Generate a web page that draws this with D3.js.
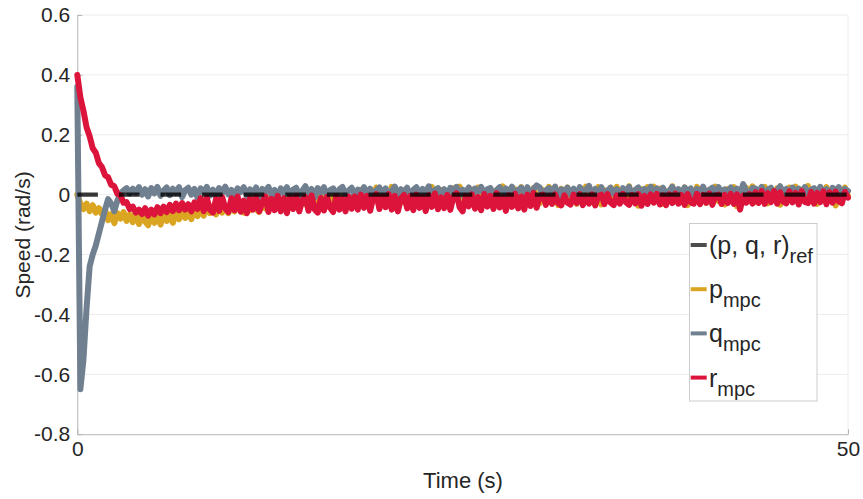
<!DOCTYPE html>
<html>
<head>
<meta charset="utf-8">
<script src="https://cdn.jsdelivr.net/npm/d3@7"></script>
<style>
  html, body { margin: 0; padding: 0; background: #fff; }
  svg { display: block; font-family: "Liberation Sans", Arial, Helvetica, sans-serif; }
</style>
</head>
<body>
<svg id="chart" width="863" height="499"></svg>
<script>
// Angular rate tracking: MPC response vs. zero reference, sampled every 0.2 s
const sampleStep = 0.2; // s
const xTicks = [0, 50];
const yTicks = [0.6, 0.4, 0.2, 0, -0.2, -0.4, -0.6, -0.8];
const yTickLabels = ["0.6", "0.4", "0.2", "0", "-0.2", "-0.4", "-0.6", "-0.8"];

const refTime = [0, 50];
const refValue = [0, 0];

const pMpc = [
  0.0, -0.03, -0.048, -0.03, -0.055, -0.035, -0.06, -0.045, -0.065, -0.05,
  -0.085, -0.065, -0.095, -0.062, -0.08, -0.058, -0.088, -0.066, -0.092, -0.06,
  -0.098, -0.068, -0.09, -0.102, -0.064, -0.094, -0.07, -0.1, -0.062, -0.088,
  -0.066, -0.094, -0.058, -0.082, -0.052, -0.078, -0.056, -0.082, -0.046, -0.072,
  -0.044, -0.07, -0.034, -0.062, -0.038, -0.066, -0.032, -0.06, -0.036, -0.062,
  -0.028, -0.056, -0.024, -0.052, -0.06, -0.026, -0.052, -0.02, -0.048, -0.058,
  -0.016, -0.046, -0.012, -0.042, -0.008, -0.038, -0.048, -0.014, -0.04, -0.004,
  -0.036, -0.01, -0.043, -0.002, -0.032, 0.003, -0.028, -0.038, -0.004, -0.034,
  0.0, -0.03, 0.01, -0.026, -0.038, -0.002, -0.028, 0.012, -0.022, -0.033,
  0.004, -0.028, 0.016, -0.02, -0.034, 0.01, -0.022, 0.024, -0.015, -0.03,
  0.012, -0.022, 0.026, -0.013, -0.036, 0.008, -0.026, 0.018, -0.017, -0.032,
  0.02, -0.012, -0.028, 0.014, -0.019, 0.026, -0.009, -0.033, 0.016, -0.023,
  0.01, -0.03, 0.021, -0.015, 0.027, -0.021, 0.008, -0.036, 0.017, -0.012,
  0.024, -0.026, 0.011, -0.017, 0.02, -0.031, 0.014, -0.01, 0.028, -0.022,
  0.007, -0.027, 0.018, -0.014, 0.025, -0.034, 0.012, -0.019, 0.022, -0.009,
  -0.029, 0.016, -0.012, 0.026, -0.023, 0.009, -0.035, 0.02, -0.016, 0.024,
  -0.019, 0.013, -0.031, 0.021, -0.01, 0.027, -0.025, 0.008, -0.017, 0.025,
  -0.033, 0.015, -0.021, 0.023, -0.008, 0.026, -0.027, 0.011, -0.018, 0.028,
  -0.023, 0.009, -0.037, 0.018, -0.013, 0.025, -0.02, 0.027, -0.01, 0.02,
  -0.031, 0.012, -0.016, 0.028, -0.024, 0.017, -0.011, 0.024, -0.035, 0.014,
  -0.019, 0.026, -0.009, 0.021, -0.028, 0.016, -0.014, 0.027, -0.022, 0.01,
  -0.033, 0.019, -0.012, 0.025, -0.039, 0.015, -0.021, 0.023, -0.008, 0.028,
  -0.025, 0.011, -0.016, 0.026, -0.029, 0.018, -0.011, 0.021, -0.034, 0.014,
  -0.02, 0.024, -0.01, 0.027, -0.026, 0.017, -0.014, 0.029, -0.022, 0.012,
  -0.031, 0.02, -0.009, 0.025, -0.019, 0.022, -0.036, 0.015, -0.012, 0.024,
  -0.004
];

const qMpc = [
  0.36, -0.65, -0.55, -0.38, -0.24, -0.20, -0.17, -0.13, -0.09, -0.05,
  -0.015, -0.03, -0.055, -0.02, 0.005, 0.014, 0.022, 0.004, 0.02, 0.008,
  0.025, 0.0, 0.018, -0.006, 0.022, 0.004, 0.026, -0.004, 0.014, 0.024,
  -0.002, 0.02, 0.006, 0.025, -0.008, 0.015, 0.023, 0.0, 0.019, -0.01,
  0.021, 0.008, 0.026, -0.003, 0.017, -0.009, 0.022, 0.006, 0.027, 0.001,
  0.016, -0.007, 0.021, 0.009, 0.025, -0.004, 0.018, 0.003, 0.024, -0.008,
  0.019, 0.01, 0.026, -0.002, 0.016, -0.011, 0.021, 0.005, 0.025, -0.003,
  0.017, 0.023, -0.006, 0.013, 0.028, 0.002, 0.019, -0.009, 0.022, 0.007,
  0.025, -0.004, 0.015, 0.021, -0.01, 0.018, 0.026, 0.001, 0.014, 0.023,
  -0.005, 0.017, 0.006, 0.025, -0.002, 0.02, -0.009, 0.015, 0.024, 0.003,
  0.021, -0.007, 0.013, 0.027, 0.0, 0.018, 0.008, 0.023, -0.011, 0.016,
  0.025, -0.001, 0.019, 0.007, 0.028, -0.006, 0.015, 0.022, 0.002, 0.018,
  -0.008, 0.023, 0.011, 0.026, -0.003, 0.017, 0.004, 0.024, -0.007, 0.02,
  0.009, 0.026, 0.0, 0.018, 0.022, -0.01, 0.015, 0.025, -0.002, 0.021,
  0.006, 0.027, -0.005, 0.016, 0.023, 0.003, 0.025, -0.008, 0.019, 0.031,
  0.024, -0.003, 0.014, 0.022, 0.005, 0.027, -0.009, 0.018, 0.008, 0.023,
  0.001, 0.02, -0.006, 0.025, 0.011, 0.016, 0.029, -0.002, 0.019, 0.006,
  0.025, -0.008, 0.014, 0.023, 0.003, 0.018, -0.01, 0.022, 0.009, 0.026,
  -0.004, 0.016, 0.024, 0.002, 0.019, 0.01, 0.027, -0.007, 0.021, 0.005,
  0.023, -0.009, 0.013, 0.026, 0.004, 0.018, -0.001, 0.024, 0.011, 0.021,
  -0.006, 0.019, 0.008, 0.027, 0.0, 0.016, 0.023, -0.004, 0.025, 0.007,
  0.018, 0.01, 0.024, -0.005, 0.02, 0.003, 0.035, 0.012, -0.002, 0.022,
  0.021, 0.006, 0.026, -0.008, 0.017, 0.023, 0.001, 0.015, 0.028, 0.005,
  0.019, -0.004, 0.024, 0.01, 0.02, -0.009, 0.025, 0.004, 0.016, 0.022,
  -0.001, 0.026, 0.009, 0.018, -0.006, 0.023, 0.012, 0.025, 0.002, 0.019,
  0.012
];

const rMpc = [
  0.40, 0.325, 0.28, 0.225, 0.195, 0.155, 0.14, 0.105, 0.092, 0.065,
  0.058, 0.033, 0.028, 0.003, -0.002, -0.027, -0.025, -0.048, -0.04, -0.06,
  -0.05, -0.065, -0.045, -0.07, -0.05, -0.066, -0.042, -0.062, -0.04, -0.058,
  -0.034, -0.055, -0.03, -0.052, -0.028, -0.05, -0.032, -0.056, -0.026, -0.048,
  -0.012, -0.055, -0.01, -0.05, -0.06, -0.014, -0.054, -0.008, -0.046, -0.058,
  -0.012, -0.052, -0.006, -0.057, -0.02, -0.062, -0.012, -0.05, -0.008, -0.056,
  -0.026, -0.006, -0.058, -0.014, -0.052, -0.004, -0.056, -0.012, -0.062, -0.01,
  -0.048, -0.005, -0.056, -0.018, -0.008, -0.054, -0.003, -0.049, -0.06, -0.011,
  -0.053, -0.008, -0.044, -0.058, -0.005, -0.05, -0.013, -0.056, -0.006, -0.047,
  -0.006, -0.05, 0.0, -0.044, -0.004, -0.054, -0.01, 0.002, -0.048, -0.006,
  -0.042, 0.002, -0.05, -0.004, -0.056, -0.012, -0.001, -0.046, -0.005, -0.052,
  0.0, -0.044, -0.008, -0.055, -0.002, -0.041, 0.004, -0.049, -0.009, -0.045,
  -0.001, -0.051, -0.007, 0.005, -0.042, -0.056, -0.004, -0.039, 0.001, -0.047,
  -0.008, -0.052, 0.002, -0.04, -0.004, -0.048, 0.005, -0.043, -0.01, -0.054,
  -0.002, -0.041, 0.003, -0.046, -0.006, -0.05, 0.0, -0.038, 0.006, -0.044,
  -0.004, 0.0, -0.034, -0.006, -0.031, 0.001, -0.029, -0.036, -0.002, -0.027,
  -0.033, 0.0, -0.028, 0.002, -0.035, -0.004, -0.03, 0.001, -0.036, -0.005,
  0.0, -0.032, 0.002, -0.027, -0.035, -0.002, -0.03, 0.003, -0.026, -0.034,
  -0.001, -0.029, 0.002, -0.037, -0.004, -0.031, 0.001, -0.027, 0.003, -0.033,
  -0.002, -0.035, 0.001, -0.028, 0.004, -0.03, -0.001, -0.034, 0.002, -0.026,
  -0.03, 0.003, -0.032, -0.001, -0.027, 0.004, -0.034, -0.003, 0.0, -0.031,
  -0.001, -0.028, 0.003, -0.031, 0.001, -0.05, -0.003, -0.027, 0.002, -0.03,
  0.008, -0.028, 0.012, -0.031, 0.005, -0.025, 0.012, -0.03, 0.008, -0.023,
  -0.029, 0.011, -0.026, 0.006, -0.033, 0.012, -0.024, -0.028, 0.009, -0.03,
  0.006, -0.025, 0.011, -0.032, 0.008, -0.027, 0.01, -0.022, -0.029, 0.009,
  -0.01
];

const seriesNames = ["p", "q", "r"];
const seriesColors = ["#DAA520", "#708090", "#DC143C"];
const seriesValues = [pMpc, qMpc, rMpc];

const svg = d3.select("#chart");
const x = d3.scaleLinear().domain([0, 50]).range([77.3, 848]);
const y = d3.scaleLinear().domain([-0.8, 0.6]).range([434.2, 15]);

const textColor = "#262626";
const axisColor = "#b5b5b5";
const gridColor = "#ececec";

// grid
const grid = svg.append("g");
grid.selectAll("line.h").data(yTicks.filter(d => d !== -0.8)).join("line")
  .attr("x1", x(0)).attr("x2", x(50))
  .attr("y1", d => y(d)).attr("y2", d => y(d))
  .attr("stroke", gridColor).attr("stroke-width", 1);
grid.selectAll("line.v").data(xTicks.filter(d => d !== 0)).join("line")
  .attr("x1", d => x(d)).attr("x2", d => x(d))
  .attr("y1", y(0.6)).attr("y2", y(-0.8))
  .attr("stroke", gridColor).attr("stroke-width", 1);

// axes
const yAxis = d3.axisLeft(y).tickValues(yTicks)
  .tickFormat((d, i) => yTickLabels[i])
  .tickSizeInner(-5).tickSizeOuter(0).tickPadding(7);
const gy = svg.append("g").attr("transform", `translate(${x(0)},0)`).call(yAxis);

const xAxis = d3.axisBottom(x).tickValues(xTicks)
  .tickFormat(d3.format("d"))
  .tickSizeInner(-5).tickSizeOuter(0).tickPadding(7);
const gx = svg.append("g").attr("transform", `translate(0,${y(-0.8)})`).call(xAxis);

[gx, gy].forEach(g => {
  g.select(".domain").attr("stroke", axisColor);
  g.selectAll(".tick line").attr("stroke", axisColor);
  g.selectAll(".tick text").attr("fill", textColor)
    .style("font-size", "21px").style("font-family", "'Liberation Sans', Arial, sans-serif");
});

// axis titles
svg.append("text").attr("x", 463).attr("y", 488)
  .attr("text-anchor", "middle").attr("fill", textColor)
  .style("font-size", "22px").text("Time (s)");
svg.append("text").attr("transform", "translate(30,235) rotate(-90)")
  .attr("text-anchor", "middle").attr("fill", textColor)
  .style("font-size", "21px").text("Speed (rad/s)");

// series
const line = d3.line().x(d => x(d[0])).y(d => y(d[1]));
const plot = svg.append("g");
seriesValues.forEach((vals, k) => {
  const pts = vals.map((v, i) => [i * sampleStep, v]);
  plot.append("path").datum(pts)
    .attr("d", line)
    .attr("fill", "none")
    .attr("stroke", seriesColors[k])
    .attr("stroke-width", 6)
    .attr("stroke-linejoin", "round")
    .attr("stroke-linecap", "round");
});

// reference (dashed, on top)
plot.append("path").datum(refTime.map((t, i) => [t, refValue[i]]))
  .attr("d", line)
  .attr("fill", "none")
  .attr("stroke", "#000")
  .attr("stroke-opacity", 0.78)
  .attr("stroke-width", 4.3)
  .attr("stroke-dasharray", "20.6 21");

// legend
const legend = svg.append("g");
legend.append("rect")
  .attr("x", 689.5).attr("y", 223.5).attr("width", 127.5).attr("height", 177.5)
  .attr("fill", "#fff").attr("stroke", "#cccccc").attr("stroke-width", 1);

const legendItems = [
  { main: "(p, q, r)", sub: "ref", color: "#000", opacity: 0.7 },
  { main: seriesNames[0], sub: "mpc", color: seriesColors[0], opacity: 1 },
  { main: seriesNames[1], sub: "mpc", color: seriesColors[1], opacity: 1 },
  { main: seriesNames[2], sub: "mpc", color: seriesColors[2], opacity: 1 }
];
legendItems.forEach((it, i) => {
  const cy = 245 + i * 44.2;
  legend.append("line")
    .attr("x1", 690.7).attr("x2", 706.7).attr("y1", cy).attr("y2", cy)
    .attr("stroke", it.color).attr("stroke-opacity", it.opacity).attr("stroke-width", 4);
  const t = legend.append("text").attr("x", 709).attr("y", cy + 9).attr("fill", textColor);
  t.append("tspan").style("font-size", "25px").text(it.main);
  t.append("tspan").attr("dy", 9).style("font-size", "20px").text(it.sub);
});
</script>
</body>
</html>
